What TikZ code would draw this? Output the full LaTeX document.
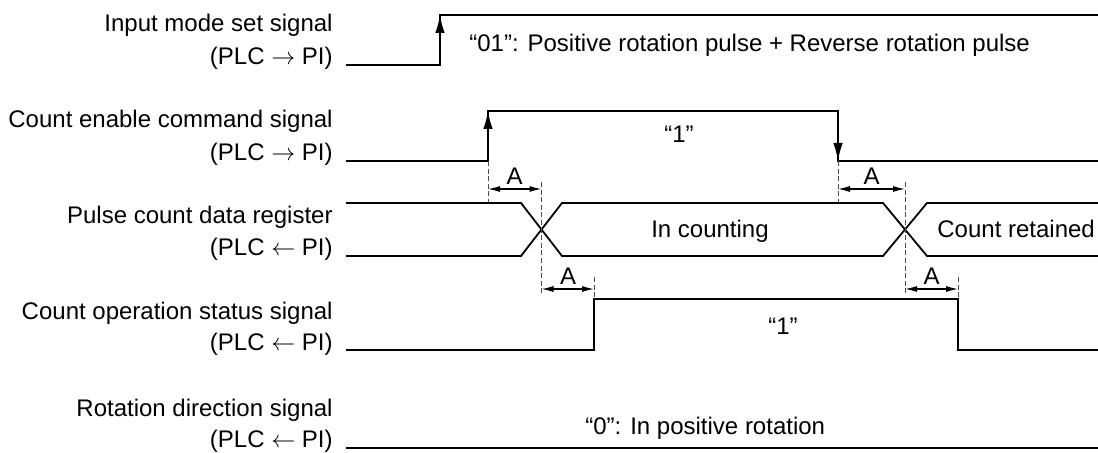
\documentclass[tikz,border=0pt]{standalone}
\usepackage{fontspec}
\setmainfont{Liberation Sans}
\usetikzlibrary{arrows.meta}
\tikzset{
  sig/.style={line width=0.9pt, line join=miter},
  edgearrow/.style={line width=0.9pt, -{Latex[length=9pt,width=4.8pt]}},
  dimarrow/.style={line width=0.6pt, {Latex[length=6pt,width=3pt]}-{Latex[length=6pt,width=3pt]}},
  guide/.style={line width=0.5pt, draw=black!70, dash pattern=on 2.5pt off 1.3pt},
  lbl/.style={anchor=base east, inner sep=0pt, font=\fontsize{12}{14}\selectfont},
  txt/.style={inner sep=0pt, font=\fontsize{12}{14}\selectfont},
}
\begin{document}
\begin{tikzpicture}[x=0.5pt,y=-0.5pt]
\useasboundingbox (0,0) rectangle (1098,453);

% ---- labels
\node[lbl] (l1a) at (333,32) {Input mode set signal};
\node[lbl] (l1b) at (333,65) {(PLC $\rightarrow$ PI)};
\node[lbl] (l2a) at (333,128) {Count enable command signal};
\node[lbl] (l2b) at (333,161) {(PLC $\rightarrow$ PI)};
\node[lbl] (l3a) at (333,224) {Pulse count data register};
\node[lbl] (l3b) at (333,256) {(PLC $\leftarrow$ PI)};
\node[lbl] (l4a) at (333,320) {Count operation status signal};
\node[lbl] (l4b) at (333,351) {(PLC $\leftarrow$ PI)};
\node[lbl] (l5a) at (333,417) {Rotation direction signal};
\node[lbl] (l5b) at (333,448) {(PLC $\leftarrow$ PI)};

% ---- key coordinates
\coordinate (r1lo) at (440,65);  \coordinate (r1hi) at (440,15);
\coordinate (r2rlo) at (488,161); \coordinate (r2rhi) at (488,111);
\coordinate (r2fhi) at (838,111); \coordinate (r2flo) at (838,161);

% ---- waveforms
\draw[sig] (346,65) -- (r1lo) -- (r1hi) -- (1098,15);
\draw[edgearrow] (r1lo) -- (r1hi);

\draw[sig] (346,161) -- (r2rlo) -- (r2rhi) -- (r2fhi) -- (r2flo) -- (1098,161);
\draw[edgearrow] (r2rlo) -- (r2rhi);
\draw[edgearrow] (r2fhi) -- (r2flo);

\draw[sig] (346,203) -- (521,203) -- (562,256) -- (883,256) -- (927,203) -- (1098,203);
\draw[sig] (346,256) -- (521,256) -- (562,203) -- (883,203) -- (927,256) -- (1098,256);

\draw[sig] (346,350) -- (594,350) -- (594,299) -- (958,299) -- (958,350) -- (1098,350);

\draw[sig] (346,448) -- (1098,448);

% ---- guides
\draw[guide] (488,161) -- (488,202);
\draw[guide] (838,161) -- (838,202);
\draw[guide] (541.5,182) -- (541.5,293);
\draw[guide] (905,182) -- (905,293);
\draw[guide] (594,277) -- (594,299);
\draw[guide] (958,277) -- (958,299);

% ---- dimension arrows
\coordinate (d1a) at (488,189);   \coordinate (d1b) at (541.5,189);
\coordinate (d2a) at (541.5,289); \coordinate (d2b) at (594,289);
\coordinate (d3a) at (838,189);   \coordinate (d3b) at (905,189);
\coordinate (d4a) at (905,289);   \coordinate (d4b) at (958,289);
\draw[dimarrow] (d1a) -- (d1b);
\draw[dimarrow] (d2a) -- (d2b);
\draw[dimarrow] (d3a) -- (d3b);
\draw[dimarrow] (d4a) -- (d4b);
\node[txt, anchor=base] (A1) at (514.5,185) {A};
\node[txt, anchor=base] (A2) at (568,285) {A};
\node[txt, anchor=base] (A3) at (871.5,185) {A};
\node[txt, anchor=base] (A4) at (931.5,285) {A};

% ---- texts in waveforms
\node[txt, anchor=base west] (t1) at (469,52) {“01”: Positive rotation pulse + Reverse rotation pulse};
\node[txt, anchor=base] (t2) at (679,143) {“1”};
\node[txt, anchor=base] (t3) at (710,238) {In counting};
\node[txt, anchor=base west] (t4) at (937,238) {Count retained};
\node[txt, anchor=base] (t5) at (783,335) {“1”};
\node[txt, anchor=base west] (t6) at (585,435) {“0”: In positive rotation};
\end{tikzpicture}
\end{document}
